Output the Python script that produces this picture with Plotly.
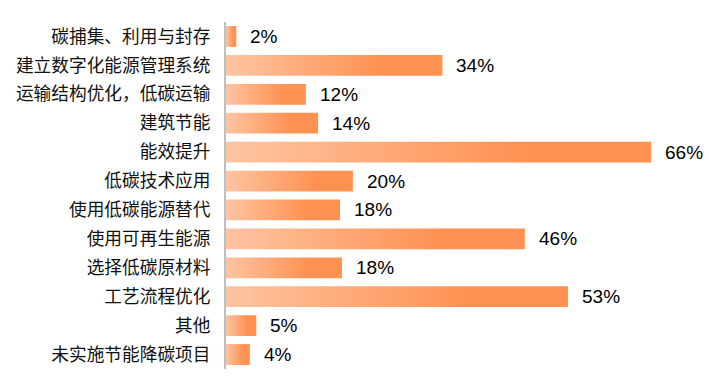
import plotly.graph_objects as go

categories = ["碳捕集、利用与封存", "建立数字化能源管理系统", "运输结构优化，低碳运输", "建筑节能",
              "能效提升", "低碳技术应用", "使用低碳能源替代", "使用可再生能源",
              "选择低碳原材料", "工艺流程优化", "其他", "未实施节能降碳项目"]
values = [1.6, 33.6, 12.4, 14.3, 66.0, 19.7, 17.7, 46.4, 18.0, 53.1, 4.7, 3.7]
value_labels = ["2%", "34%", "12%", "14%", "66%", "20%", "18%", "46%", "18%", "53%", "5%", "4%"]

LIGHT = "#FFC4A2"
DARK = "#FF9152"
half = 0.36

fig = go.Figure()
for i, (c, v) in enumerate(zip(categories, values)):
    fig.add_trace(go.Scatter(
        x=[0, v, v, 0, 0],
        y=[i - half, i - half, i + half, i + half, i - half],
        mode="lines", line=dict(width=0), fill="toself",
        fillgradient=dict(type="horizontal",
                          colorscale=[[0, LIGHT], [0.72, DARK], [1, DARK]]),
        hoverinfo="skip", showlegend=False))

for i, (v, t) in enumerate(zip(values, value_labels)):
    fig.add_annotation(x=v, y=i, text=t, showarrow=False, xanchor="left",
                       yanchor="middle", xshift=12,
                       font=dict(family="Liberation Sans, Arial", size=19, color="#000000"))

fig.update_layout(
    width=709, height=392,
    margin=dict(l=226, r=0, t=22, b=23),
    paper_bgcolor="white", plot_bgcolor="white",
    xaxis=dict(range=[0, 75.0], visible=False, fixedrange=True),
    yaxis=dict(range=[11.5, -0.5], tickmode="array",
               tickvals=list(range(len(categories))), ticktext=categories,
               showgrid=False, zeroline=False, showline=True,
               linecolor="#BFBFBF", linewidth=2,
               ticks="", ticklabelstandoff=10,
               tickfont=dict(family="Noto Sans CJK SC", size=17.7, color="#111111")),
)
fig.write_html("out.html")
